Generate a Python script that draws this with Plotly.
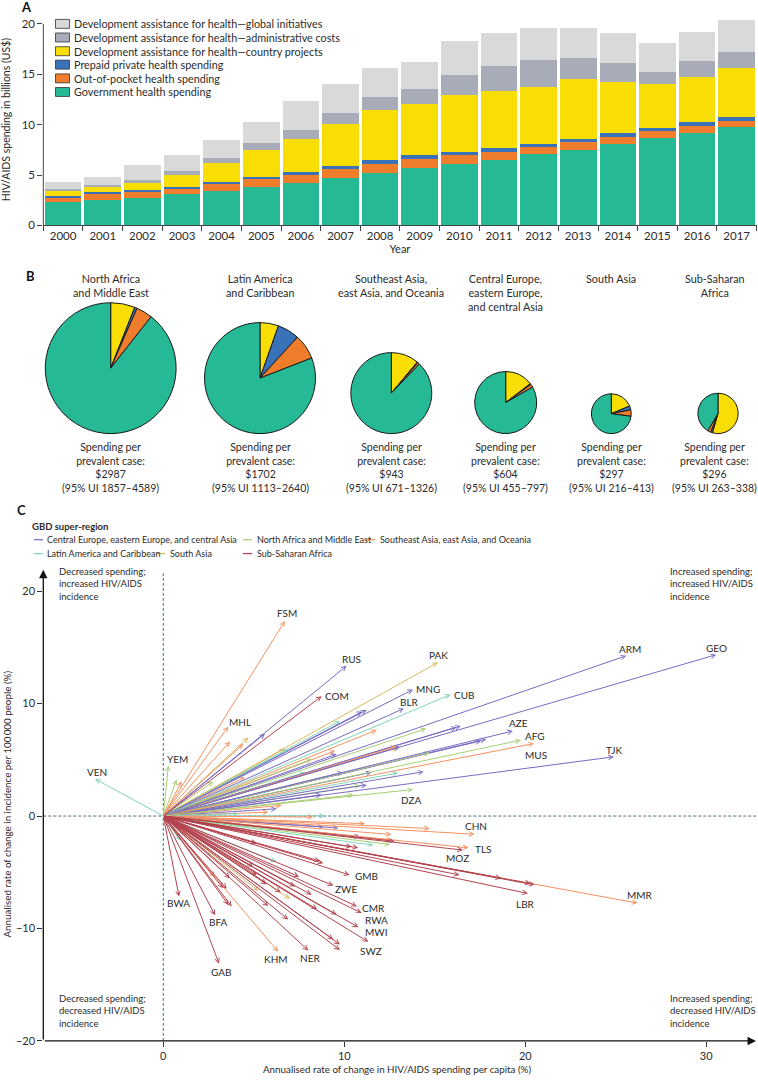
import plotly.graph_objects as go

W, H = 758, 1083
FONT = "Lato, sans-serif"
TXT = "#2b2b2b"

# ---------------- Panel A data ----------------
years = [str(y) for y in range(2000, 2018)]
gov = [2.37, 2.54, 2.77, 3.07, 3.46, 3.85, 4.24, 4.68, 5.17, 5.67, 6.09, 6.52, 7.05, 7.50, 8.07, 8.69, 9.22, 9.77]
oop = [0.40, 0.56, 0.59, 0.55, 0.66, 0.73, 0.79, 0.92, 0.92, 0.91, 0.89, 0.78, 0.75, 0.73, 0.72, 0.66, 0.62, 0.60]
prepaid = [0.16, 0.20, 0.19, 0.23, 0.22, 0.26, 0.27, 0.29, 0.37, 0.40, 0.32, 0.40, 0.30, 0.36, 0.36, 0.32, 0.40, 0.39]
country = [0.56, 0.55, 0.64, 1.19, 1.88, 2.63, 3.26, 4.21, 4.99, 5.03, 5.67, 5.63, 5.66, 5.96, 5.10, 4.35, 4.51, 4.88]
admin = [0.13, 0.17, 0.32, 0.33, 0.46, 0.66, 0.92, 1.02, 1.28, 1.48, 1.91, 2.53, 2.70, 2.10, 1.88, 1.25, 1.61, 1.58]
global_init = [0.72, 0.82, 1.51, 1.61, 1.78, 2.14, 2.86, 2.87, 2.90, 2.74, 3.38, 3.19, 3.16, 2.90, 2.96, 2.80, 2.79, 3.21]

series_names = [
    "Government health spending",
    "Out-of-pocket health spending",
    "Prepaid private health spending",
    "Development assistance for health\u2014country projects",
    "Development assistance for health\u2014administrative costs",
    "Development assistance for health\u2014global initiatives",
]
series_colors = ["#25B995", "#EF7D2B", "#3A72B9", "#F9DE06", "#A7ACB8", "#D9D9D9"]

# ---------------- Panel B data ----------------
pie_titles = ["North Africa<br>and Middle East", "Latin America<br>and Caribbean",
              "Southeast Asia,<br>east Asia, and Oceania",
              "Central Europe,<br>eastern Europe,<br>and central Asia",
              "South Asia", "Sub-Saharan<br>Africa"]
pie_country = [6.0, 5.4, 11.1, 14.6, 18.7, 54.5]
pie_prepaid = [0.6, 6.4, 0.3, 0.5, 3.2, 1.5]
pie_oop = [4.0, 7.3, 0.8, 1.6, 5.2, 2.5]
pie_gov = [89.4, 80.9, 87.8, 83.3, 72.9, 41.5]
per_case = ["$2987", "$1702", "$943", "$604", "$297", "$296"]
per_case_ui = ["1857\u20134589", "1113\u20132640", "671\u20131326", "455\u2013797", "216\u2013413", "263\u2013338"]

# ---------------- Panel C data ----------------
region_names = {
    "CE": "Central Europe, eastern Europe, and central Asia",
    "NAME": "North Africa and Middle East",
    "SEA": "Southeast Asia, east Asia, and Oceania",
    "LAC": "Latin America and Caribbean",
    "SA": "South Asia",
    "SSA": "Sub-Saharan Africa",
}
region_colors = {"CE": "#7A6BC2", "NAME": "#A7CF72", "SEA": "#F5915F",
                 "LAC": "#82D4BD", "SA": "#D7B85C", "SSA": "#B3434F"}

arrow_code = ["", "", "", "", "", "", "", "", "", "", "", "", "", "", "", "", "", "", "", "",
              "", "", "", "", "", "", "", "", "", "", "", "", "", "", "", "", "", "", "", "",
              "", "", "", "", "", "", "", "", "", "", "", "", "", "", "",
              "FSM", "RUS", "MHL", "YEM", "VEN", "PAK", "MNG", "BLR", "CUB", "ARM", "GEO", "AZE",
              "AFG", "MUS", "TJK", "DZA", "CHN", "TLS", "MMR", "KHM",
              "", "", "", "", "", "", "", "", "", "", "", "", "", "", "", "", "", "", "", "",
              "", "", "", "", "", "", "", "", "",
              "COM", "MOZ", "LBR", "GMB", "ZWE", "CMR", "RWA", "MWI", "SWZ", "NER", "GAB", "BFA", "BWA"]
arrow_region = ["SEA", "SA", "SEA", "CE", "NAME", "SEA", "NAME", "SEA", "SA", "LAC",
                "CE", "CE", "SEA", "SEA", "CE", "NAME", "LAC", "CE", "CE", "NAME",
                "CE", "CE", "SEA", "CE", "SEA", "LAC", "LAC", "NAME", "CE", "CE",
                "NAME", "CE", "CE", "SA", "NAME", "LAC", "CE", "CE", "SEA", "LAC",
                "SEA", "SEA", "SEA", "CE", "CE", "SEA", "CE", "LAC", "NAME", "SEA",
                "LAC", "LAC", "SA", "SA", "SEA",
                "SEA", "CE", "SEA", "NAME", "LAC", "SA", "CE", "CE", "LAC", "CE", "CE", "CE",
                "NAME", "SEA", "CE", "NAME", "SEA", "SEA", "SEA", "SEA",
                "SSA", "SSA", "SSA", "SSA", "SSA", "SSA", "SSA", "SSA", "SSA", "SSA",
                "SSA", "SSA", "SSA", "SSA", "SSA", "SSA", "SSA", "SSA", "SSA", "SSA",
                "SSA", "SSA", "SSA", "SSA", "SSA", "SSA", "SSA", "SSA", "SSA",
                "SSA", "SSA", "SSA", "SSA", "SSA", "SSA", "SSA", "SSA", "SSA", "SSA", "SSA", "SSA", "SSA"]
spend_change = [3.69, 4.70, 4.42, 5.62, 0.74, 1.02, 2.76, 4.51, 6.72, 9.76,
                11.24, 11.00, 11.79, 9.49, 9.58, 8.20, 7.83, 9.94, 11.51, 10.87,
                11.24, 8.75, 6.54, 6.27, 5.80, 4.14, 8.93, 10.50, 16.43, 16.20,
                14.53, 17.85, 17.57, 12.97, 14.72, 12.97, 14.39, 13.08, 12.90, 6.90,
                8.29, 11.14, 14.72, 9.67, 8.84, 12.60, 10.87, 11.60, 12.52, 12.62,
                6.26, 0.92, 7.00, 5.25, 2.86,
                6.72, 10.13, 3.59, 0.28, -3.77, 15.18, 13.80, 13.30, 15.88, 25.58, 30.55, 19.32,
                19.75, 20.48, 24.90, 13.80, 17.20, 16.87, 26.20, 6.35,
                12.78, 10.41, 10.77, 8.84, 8.66, 16.37, 18.67, 20.52, 20.30, 8.20,
                7.28, 5.71, 5.16, 3.78, 3.60, 3.31, 6.90, 9.58, 9.39, 9.76,
                9.76, 5.16, 4.97, 3.68, 3.50, 7.50, 6.50, 8.50, 5.80,
                8.75, 16.56, 20.15, 10.30, 9.40, 10.70, 10.96, 10.78, 11.33, 8.01, 3.08, 2.86, 0.87]
incid_change = [6.63, 6.98, 6.40, 7.33, 3.24, 3.09, 3.07, 3.45, 6.00, 8.45,
                9.43, 9.30, 7.66, 5.80, 5.51, 5.07, 3.89, 3.89, 3.89, 2.71,
                2.77, 1.89, 0.95, 0.65, 0.35, 0.21, 0.03, 1.89, 8.01, 7.90,
                7.78, 6.84, 6.69, 6.10, 5.65, 3.83, 3.95, 6.16, 6.20, 5.95,
                -0.09, -0.68, -1.11, -1.06, -0.97, -1.64, -1.85, -2.59, -2.53, -2.15,
                -4.06, -2.15, -7.36, -6.65, -5.40,
                17.35, 13.37, 7.95, 4.48, 3.30, 13.67, 11.25, 9.57, 10.81, 14.26, 14.35, 7.57,
                6.75, 6.45, 5.27, 2.36, -1.62, -2.83, -7.74, -12.07,
                -2.24, -2.74, -2.83, -4.20, -4.00, -5.24, -5.53, -6.12, -6.00, -7.00,
                -6.27, -6.06, -5.24, -8.04, -7.90, -6.41, -9.21, -8.77, -10.98, -11.42,
                -11.92, -2.44, -4.50, -5.53, -6.47, -5.40, -6.80, -8.30, -8.00,
                10.66, -3.03, -6.89, -5.24, -6.18, -8.04, -8.63, -9.89, -11.19, -11.96, -13.13, -8.83, -7.15]

# ---------------- helpers / layout geometry ----------------
def px(x):
    return x / W

def py(y):
    return 1 - y / H

fig = go.Figure()
shapes = []
annotations = []

# ---------- Panel A ----------
A_y0_px, A_scale = 226.7, 10.135
A_top = 21.0
for vals, name, col in zip([gov, oop, prepaid, country, admin, global_init], series_names, series_colors):
    fig.add_trace(go.Bar(x=years, y=vals, name=name, marker=dict(color=col, line=dict(width=0)),
                         xaxis="x", yaxis="y", showlegend=False))

fig.update_layout(
    xaxis=dict(domain=[px(43.3), px(756.5)], anchor="y", type="category", tickson="boundaries",
               ticks="outside", ticklen=5, tickcolor="#444", showline=True, linecolor="#444",
               linewidth=1, tickfont=dict(family=FONT, size=11.5, color=TXT), showgrid=False,
               title=dict(text="Year", font=dict(family=FONT, size=11, color=TXT), standoff=4)),
    yaxis=dict(domain=[py(A_y0_px), py(A_y0_px - A_top * A_scale)], anchor="x", range=[0, A_top],
               tickvals=[0, 5, 10, 15, 20], ticks="outside", ticklen=5, tickcolor="#444",
               showline=False, showgrid=False, zeroline=False,
               tickfont=dict(family=FONT, size=11.5, color=TXT),
               title=dict(text="HIV/AIDS spending in billions (US$)", font=dict(family=FONT, size=10.5, color=TXT), standoff=10)),
    barmode="stack", bargap=0.075,
)
shapes.append(dict(type="line", xref="paper", yref="y", x0=px(43.3), x1=px(43.3), y0=0, y1=20,
                   line=dict(color="#444", width=1)))

# legend for panel A (top-first order)
leg_rows = [24, 37.7, 51.5, 65, 78.8, 92.5]
for i, idx in enumerate([5, 4, 3, 2, 1, 0]):
    yc = leg_rows[i]
    shapes.append(dict(type="rect", xref="paper", yref="paper", x0=px(55.5), x1=px(69.5),
                       y0=py(yc + 4.5), y1=py(yc - 4.5), fillcolor=series_colors[idx],
                       line=dict(color="#333", width=0.8)))
    annotations.append(dict(xref="paper", yref="paper", x=px(72), y=py(yc), xanchor="left", yanchor="middle",
                            text=series_names[idx], showarrow=False,
                            font=dict(family=FONT, size=10.8, color=TXT)))

# panel letters
for letter, xx, yy in [("A", 26, 7), ("B", 30, 278), ("C", 21, 513)]:
    annotations.append(dict(xref="paper", yref="paper", x=px(xx), y=py(yy), text="<b>" + letter + "</b>",
                            showarrow=False, xanchor="center", yanchor="middle",
                            font=dict(family=FONT, size=13, color="#111")))

# ---------- Panel B ----------
pie_cx = [110.7, 260.0, 391.3, 505.7, 611.3, 718.0]
pie_text_cx = [110.7, 260.0, 391.3, 505.7, 611.3, 714.5]
pie_r = [65.8, 55.8, 40.7, 31.2, 20.0, 20.3]
pie_bottom = 436.0
pie_colors = [series_colors[3], series_colors[2], series_colors[1], series_colors[0]]
for i in range(6):
    r = pie_r[i]
    cx = pie_cx[i]
    cy = pie_bottom - r
    fig.add_trace(go.Pie(values=[pie_country[i], pie_prepaid[i], pie_oop[i], pie_gov[i]],
                         labels=["country", "prepaid", "oop", "gov"],
                         marker=dict(colors=pie_colors, line=dict(color="#1a1a1a", width=1)),
                         sort=False, direction="clockwise", rotation=0, textinfo="none",
                         hoverinfo="skip", showlegend=False,
                         domain=dict(x=[px(cx - r), px(cx + r)], y=[py(cy + r), py(cy - r)])))
    annotations.append(dict(xref="paper", yref="paper", x=px(pie_text_cx[i]), y=py(272), xanchor="center", yanchor="top",
                            text=pie_titles[i], showarrow=False, align="center",
                            font=dict(family=FONT, size=10.8, color=TXT)))
    annotations.append(dict(xref="paper", yref="paper", x=px(pie_text_cx[i]), y=py(441), xanchor="center", yanchor="top",
                            text="Spending per<br>prevalent case:<br>" + per_case[i] + "<br>(95% UI " + per_case_ui[i] + ")",
                            showarrow=False, align="center",
                            font=dict(family=FONT, size=10.5, color=TXT)))

# ---------- Panel C ----------
C_xr = [-6.63, 32.75]
C_yr = [-20, 21.9]
fig.update_layout(
    xaxis2=dict(domain=[px(43.3), px(756)], anchor="y2", range=C_xr, tickvals=[0, 10, 20, 30],
                ticks="outside", ticklen=5, tickcolor="#333", showline=False, showgrid=False, zeroline=False,
                tickfont=dict(family=FONT, size=11, color=TXT)),
    yaxis2=dict(domain=[py(1046.7), py(573)], anchor="x2", range=C_yr, tickvals=[-20, -10, 0, 10, 20],
                ticks="outside", ticklen=5, tickcolor="#333", showline=False, showgrid=False, zeroline=False,
                tickfont=dict(family=FONT, size=11, color=TXT)),
)
fig.add_trace(go.Scatter(x=[0], y=[0], xaxis="x2", yaxis="y2", mode="markers",
                         marker=dict(opacity=0), showlegend=False, hoverinfo="skip"))

# dashed zero lines
shapes.append(dict(type="line", xref="x2", yref="y2", x0=0, x1=0, y0=-20, y1=21.6,
                   line=dict(color="#3f6f78", width=1, dash="3px,2px")))
shapes.append(dict(type="line", xref="x2", yref="y2", x0=C_xr[0], x1=C_xr[1], y0=0, y1=0,
                   line=dict(color="#3f6f78", width=1, dash="3px,2px")))

# axis arrows
annotations.append(dict(xref="x2", yref="y2", axref="x2", ayref="y2", x=C_xr[0], y=C_yr[1],
                        ax=C_xr[0], ay=C_yr[0], text="", showarrow=True, arrowhead=2, arrowsize=1.3,
                        arrowwidth=1.3, arrowcolor="#111", standoff=0))
annotations.append(dict(xref="x2", yref="y2", axref="x2", ayref="y2", x=C_xr[1], y=C_yr[0],
                        ax=C_xr[0], ay=C_yr[0], text="", showarrow=True, arrowhead=2, arrowsize=1.3,
                        arrowwidth=1.3, arrowcolor="#111", standoff=0))

# country arrows
for code, reg, xv, yv in zip(arrow_code, arrow_region, spend_change, incid_change):
    annotations.append(dict(xref="x2", yref="y2", axref="x2", ayref="y2", x=xv, y=yv, ax=0, ay=0,
                            text="", showarrow=True, arrowhead=5, arrowsize=0.9, arrowwidth=1,
                            arrowcolor=region_colors[reg], standoff=0))

label_shift = {
    "FSM": (2, 8), "RUS": (5, 7), "COM": (15, 0), "MHL": (12, 5), "YEM": (9, 7), "VEN": (2, 7),
    "PAK": (0, 7), "MNG": (15, 1), "BLR": (6, 6), "CUB": (14, 0), "ARM": (4, 7), "GEO": (0, 7),
    "AZE": (6, 8), "AFG": (14, 4), "MUS": (2, -11), "TJK": (0, 7), "DZA": (-2, -10), "CHN": (1, 8),
    "TLS": (14, -1), "MOZ": (-5, -8), "MMR": (3, 8), "LBR": (-2, -10), "GMB": (17, -1),
    "ZWE": (13, -3), "CMR": (17, -2), "RWA": (15, -7), "MWI": (18, -5), "SWZ": (3, -9),
    "NER": (2, -7), "KHM": (-2, -7), "GAB": (2, -8), "BFA": (3, -7), "BWA": (-1, -7),
}
for code, xv, yv in zip(arrow_code, spend_change, incid_change):
    if code:
        dx, dy = label_shift.get(code, (0, 7))
        annotations.append(dict(xref="x2", yref="y2", x=xv, y=yv, xshift=dx, yshift=dy, text=code,
                                showarrow=False, xanchor="center", yanchor="middle",
                                font=dict(family=FONT, size=10, color=TXT)))

# quadrant texts
quad = [("Decreased spending;<br>increased HIV/AIDS<br>incidence", 56.7, 567),
        ("Increased spending;<br>increased HIV/AIDS<br>incidence", 668, 567),
        ("Decreased spending;<br>decreased HIV/AIDS<br>incidence", 56.7, 997),
        ("Increased spending;<br>decreased HIV/AIDS<br>incidence", 668, 997)]
for t, xx, yy in quad:
    annotations.append(dict(xref="paper", yref="paper", x=px(xx), y=py(yy), xanchor="left", yanchor="top",
                            text=t, showarrow=False, align="left",
                            font=dict(family=FONT, size=9.5, color=TXT)))

# axis titles for panel C
annotations.append(dict(xref="paper", yref="paper", x=px(7), y=py(809), textangle=-90,
                        text="Annualised rate of change in incidence per 100\u2009000 people (%)",
                        showarrow=False, xanchor="center", yanchor="middle",
                        font=dict(family=FONT, size=9.8, color=TXT)))
annotations.append(dict(xref="paper", yref="paper", x=px(397), y=py(1075),
                        text="Annualised rate of change in HIV/AIDS spending per capita (%)",
                        showarrow=False, xanchor="center", yanchor="middle",
                        font=dict(family=FONT, size=9.8, color=TXT)))

# legend for panel C
annotations.append(dict(xref="paper", yref="paper", x=px(30), y=py(529.3), xanchor="left", yanchor="middle",
                        text="<b>GBD super-region</b>", showarrow=False,
                        font=dict(family=FONT, size=9.5, color=TXT)))
leg_c = [("CE", 34, 45, 542.7), ("NAME", 243, 255, 542.7), ("SEA", 366, 378, 542.7),
         ("LAC", 34, 45, 556.7), ("SA", 156, 168, 556.7), ("SSA", 243, 255, 556.7)]
for reg, lx, tx, yy in leg_c:
    shapes.append(dict(type="line", xref="paper", yref="paper", x0=px(lx), x1=px(lx + 9), y0=py(yy), y1=py(yy),
                       line=dict(color=region_colors[reg], width=1.2)))
    annotations.append(dict(xref="paper", yref="paper", x=px(tx), y=py(yy), xanchor="left", yanchor="middle",
                            text=region_names[reg], showarrow=False,
                            font=dict(family=FONT, size=9, color=TXT)))

fig.update_layout(width=W, height=H, margin=dict(l=0, r=0, t=0, b=0),
                  paper_bgcolor="white", plot_bgcolor="white",
                  font=dict(family=FONT, color=TXT), shapes=shapes, annotations=annotations,
                  showlegend=False)

fig.write_html("out.html", config={"displayModeBar": False},
               post_script="document.body.style.margin='0';document.body.style.overflow='hidden';")
